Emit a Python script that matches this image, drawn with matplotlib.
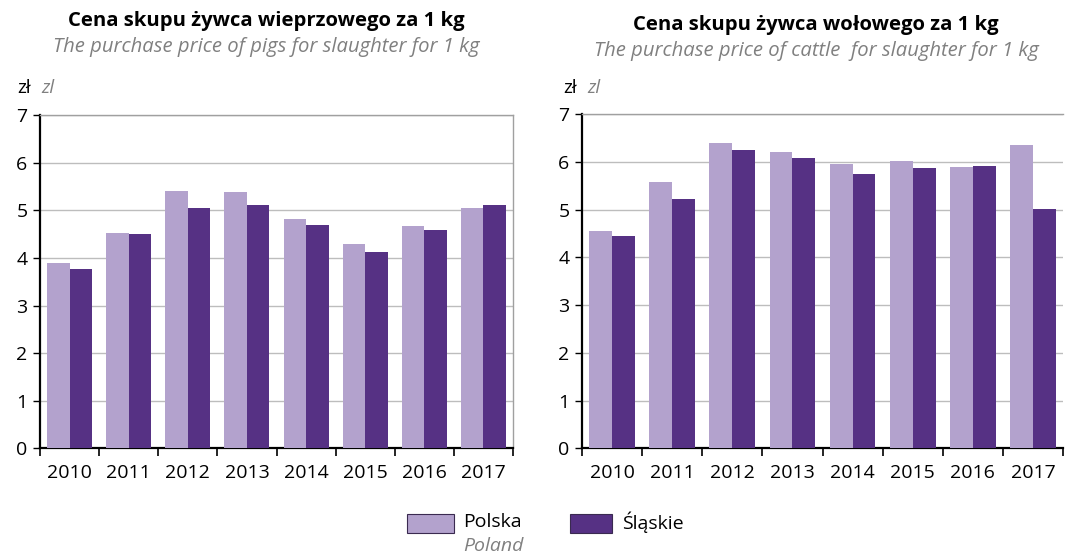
import matplotlib
matplotlib.use("Agg")
import matplotlib.pyplot as plt
import numpy as np
from matplotlib.patches import Rectangle

plt.rcParams['font.family'] = ['Open Sans', 'DejaVu Sans']

years = ["2010", "2011", "2012", "2013", "2014", "2015", "2016", "2017"]

# pigs for slaughter, zł per kg
pigs_polska = [3.89, 4.52, 5.40, 5.39, 4.82, 4.30, 4.67, 5.05]
pigs_slaskie = [3.77, 4.50, 5.05, 5.11, 4.69, 4.12, 4.59, 5.11]

# cattle for slaughter, zł per kg
cattle_polska = [4.56, 5.58, 6.40, 6.20, 5.96, 6.02, 5.90, 6.36]
cattle_slaskie = [4.45, 5.23, 6.25, 6.08, 5.74, 5.86, 5.91, 5.01]

titles_pl = ["Cena skupu żywca wieprzowego za 1 kg", "Cena skupu żywca wołowego za 1 kg"]
titles_en = ["The purchase price of pigs for slaughter for 1 kg",
             "The purchase price of cattle  for slaughter for 1 kg"]

LIGHT = "#b3a2cd"
DARK = "#563184"
GREY = "#808080"
FS = 14
FS_TITLE = 14.6

W, H = 1072, 559
fig = plt.figure(figsize=(W / 100, H / 100), dpi=100)


def fx(px):
    return px / W


def fy(py):
    return 1 - py / H


def draw_panel(rect, polska, slaskie, title_pl, title_en, right_frame, title_x, title_y, unit_x):
    ax = fig.add_axes(rect)
    x = np.arange(len(years))
    bw = 0.38
    ax.bar(x - bw / 2, polska, width=bw, color=LIGHT, zorder=3)
    ax.bar(x + bw / 2, slaskie, width=bw, color=DARK, zorder=3)
    ax.set_xlim(-0.5, len(years) - 0.5)
    ax.set_ylim(0, 7)
    ax.set_yticks(range(0, 8))
    ax.yaxis.grid(True, color="#bdbdbd", linewidth=1.0, zorder=0)
    ax.set_xticks(x)
    ax.set_xticklabels(years)
    ax.set_xticks(np.arange(-0.5, len(years)), minor=True)
    ax.tick_params(axis="x", which="major", length=0, pad=11, labelsize=FS)
    ax.tick_params(axis="x", which="minor", length=6, width=1.2, direction="out")
    ax.tick_params(axis="y", length=5, width=1.0, labelsize=FS, pad=4)
    for s in ("left", "bottom"):
        ax.spines[s].set_color("black")
        ax.spines[s].set_linewidth(1.6)
    ax.spines["top"].set_color("#a0a0a0")
    ax.spines["top"].set_linewidth(1.0)
    if right_frame:
        ax.spines["right"].set_color("#a0a0a0")
        ax.spines["right"].set_linewidth(1.0)
    else:
        ax.spines["right"].set_visible(False)
    fig.text(fx(title_x), fy(title_y), title_pl, ha="center", va="center",
             fontsize=FS_TITLE, fontweight="bold")
    fig.text(fx(title_x), fy(title_y + 26), title_en, ha="center", va="center",
             fontsize=FS_TITLE, style="italic", color=GREY)
    fig.text(fx(unit_x), fy(88), "zł", ha="left", va="center", fontsize=13.5)
    fig.text(fx(unit_x + 24), fy(88), "zl", ha="left", va="center", fontsize=13.5,
             style="italic", color=GREY)
    return ax


draw_panel([fx(40), fy(448.3), fx(513 - 40), (448.3 - 115.3) / H],
           pigs_polska, pigs_slaskie, titles_pl[0], titles_en[0], True, 266, 21, 17)
draw_panel([fx(582), fy(448.3), fx(1063 - 582), (448.3 - 114) / H],
           cattle_polska, cattle_slaskie, titles_pl[1], titles_en[1], False, 816, 25, 563)

# legend
fig.add_artist(Rectangle((fx(407), fy(533)), fx(47), 19 / H, transform=fig.transFigure,
                         facecolor=LIGHT, edgecolor="#3a2a50", linewidth=0.8))
fig.text(fx(463), fy(522), "Polska", ha="left", va="center", fontsize=FS)
fig.text(fx(463), fy(546), "Poland", ha="left", va="center", fontsize=FS,
         style="italic", color=GREY)
fig.add_artist(Rectangle((fx(570), fy(533)), fx(42), 19 / H, transform=fig.transFigure,
                         facecolor=DARK, edgecolor="#3a2a50", linewidth=0.8))
fig.text(fx(622), fy(522), "Śląskie", ha="left", va="center", fontsize=FS)

fig.savefig("out.png", dpi=100)
